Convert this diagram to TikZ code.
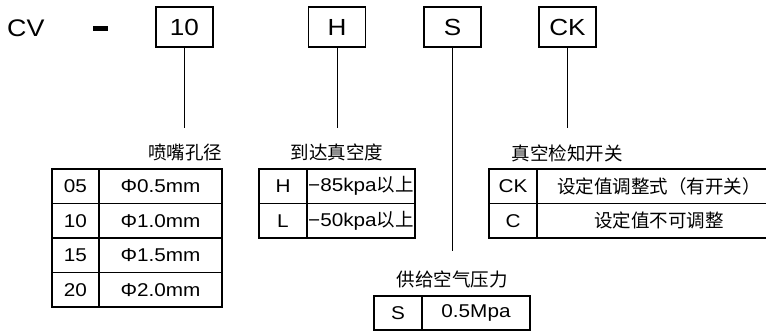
\documentclass[tikz,border=0pt]{standalone}
\usepackage{fontspec}
\setmainfont{Liberation Sans}[FakeStretch=1.12]
\newfontfamily\cjk{Noto Sans CJK SC}

\begin{document}
\begin{tikzpicture}[x=1pt, y=-1pt, line width=1.1pt]
	\pgfmathsetmacro{\rowh}{34.5}
	
	\useasboundingbox (0, 0) rectangle (766, 332);
	\clip (0, 0) rectangle (766, 332);
	
	\tikzset{ codebox/.style={ draw, rectangle, inner sep=0
	                         , minimum width=57, minimum height=40
	                         , font=\fontsize{23.3}{24}\selectfont}
	        , cell/.style={ draw, rectangle, inner sep=0
	                      , minimum height=\rowh
	                      , font=\fontsize{18.5}{20}\selectfont}
	        , heading/.style={ inner sep=0
	                         , font=\fontsize{18.5}{20}\selectfont\cjk}
	        }
	
	% Model code
	\node (prefix) at (25.8, 28) [inner sep=0, font=\fontsize{24}{24}\selectfont] {CV};
	\node (dash) at (100.2, 28.7)
	      [ fill
	      , minimum width=15
	      , minimum height=5.3
	      , inner sep=0]
	      {};
	
	\foreach \code/\name/\posx/\endy in {10/nozzle/184.5/128, H/vacuum/337/128, S/supply/452.5/251, CK/switch/567.5/128}{
		\node (code\name) at (\posx, 27) [codebox] {\code};
		\coordinate (end\name) at (\posx, \endy);
		\draw [line width=1pt] (code\name) -- (end\name);
	}
	
	% Headings
	\node (headnozzle) at (185, 152.5) [heading] {喷嘴孔径};
	\node (headvacuum) at (337, 152.5) [heading] {到达真空度};
	\node (headswitch) at (567, 153.5) [heading] {真空检知开关};
	\node (headsupply) at (452, 279.5) [heading] {供给空气压力};
	
	% Nozzle diameter
	\foreach \key/\val [count=\i] in {05/Φ0.5mm, 10/Φ1.0mm, 15/Φ1.5mm, 20/Φ2.0mm}{
		\pgfmathsetmacro{\posy}{169 + \rowh*(\i - 0.5)}
		\node (nozzle\i key) at (75.5, \posy) [cell, minimum width=47] {\key};
		\node (nozzle\i val) at (160.5, \posy) [cell, minimum width=123] {\val};
	}
	
	% Vacuum level
	\foreach \key/\val [count=\i] in {H/{−85kpa{\cjk 以上}}, L/{−50kpa{\cjk 以上}}}{
		\pgfmathsetmacro{\posy}{169 + \rowh*(\i - 0.5)}
		\node (vacuum\i key) at (283, \posy) [cell, minimum width=48] {\key};
		\node (vacuum\i val) at (361, \posy) [cell, minimum width=108] {\val};
	}
	
	% Vacuum switch
	\foreach \key/\val [count=\i] in {CK/{\cjk 设定值调整式（有开关）}, C/{\cjk 设定值不可调整}}{
		\pgfmathsetmacro{\posy}{169 + \rowh*(\i - 0.5)}
		\node (switch\i key) at (513, \posy) [cell, minimum width=48] {\key};
		\node (switch\i val) at (659, \posy) [cell, minimum width=244] {\val};
	}
	
	% Supply pressure
	\node (supply1key) at (398, 313) [cell, minimum width=48, minimum height=34] {S};
	\node (supply1val) at (476, 313) [cell, minimum width=108, minimum height=34] {0.5Mpa};
	
\end{tikzpicture}
\end{document}
